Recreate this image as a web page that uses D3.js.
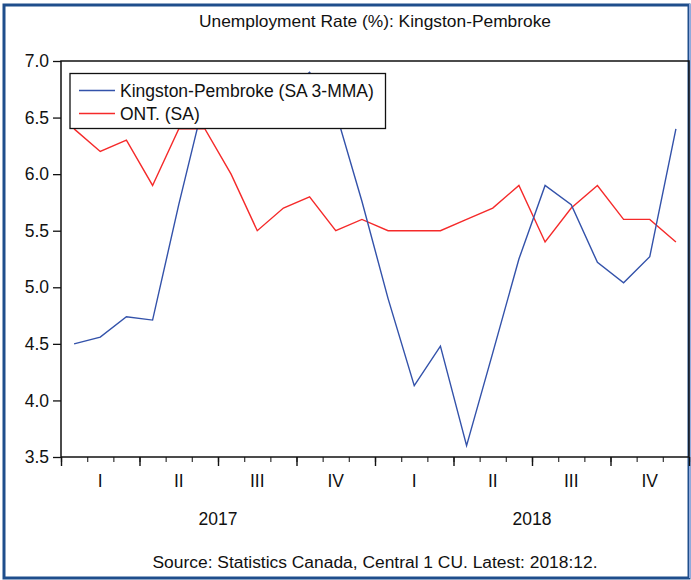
<!DOCTYPE html>
<html>
<head>
<meta charset="utf-8">
<script src="https://cdn.jsdelivr.net/npm/d3@7"></script>
<style>
  body { margin: 0; background: #fff; }
  svg text { font-family: "Liberation Sans", Arial, sans-serif; fill: #111; }
</style>
</head>
<body>
<div id="chart"></div>
<script>
// monthly data, 2017:01 - 2018:12
var kingston = [4.50, 4.56, 4.74, 4.71, 5.73, 6.68, 6.60, 6.50, 6.70, 6.90, 6.55, 5.76,
                4.90, 4.13, 4.48, 3.60, 4.42, 5.25, 5.90, 5.73, 5.22, 5.04, 5.27, 6.40];
var ontario  = [6.4, 6.2, 6.3, 5.9, 6.4, 6.4, 6.0, 5.5, 5.7, 5.8, 5.5, 5.6,
                5.5, 5.5, 5.5, 5.6, 5.7, 5.9, 5.4, 5.7, 5.9, 5.6, 5.6, 5.4];
var quarters = ["I", "II", "III", "IV", "I", "II", "III", "IV"];
var years = ["2017", "2018"];
var yTicks = [3.5, 4.0, 4.5, 5.0, 5.5, 6.0, 6.5, 7.0];
var seriesNames = ["Kingston-Pembroke (SA 3-MMA)", "ONT. (SA)"];

var W = 691, H = 580;
var margin = { top: 61, right: 2, bottom: 123, left: 61 };
var width = W - margin.left - margin.right,
    height = H - margin.top - margin.bottom;

var svg = d3.select("#chart").append("svg")
  .attr("width", W)
  .attr("height", H);

// outer frame
svg.append("rect")
  .attr("x", 4).attr("y", 5).attr("width", W - 6).attr("height", H - 7)
  .attr("fill", "none").attr("stroke", "#1f4e8c").attr("stroke-width", 3);
svg.append("line")
  .attr("x1", W - 1).attr("x2", W - 1).attr("y1", 4).attr("y2", H - 2)
  .attr("stroke", "#8faadc").attr("stroke-width", 2);

svg.append("text")
  .attr("x", margin.left + width / 2).attr("y", 27)
  .attr("text-anchor", "middle")
  .attr("font-size", 16.5)
  .attr("textLength", 352).attr("lengthAdjust", "spacingAndGlyphs")
  .text("Unemployment Rate (%): Kingston-Pembroke");

var g = svg.append("g")
  .attr("transform", "translate(" + margin.left + "," + margin.top + ")");

var x = d3.scaleLinear().domain([0, kingston.length]).range([0, width]);
var y = d3.scaleLinear().domain([3.5, 7.0]).range([height, 0]);

// y axis
var yAxis = d3.axisLeft(y).tickValues(yTicks).tickFormat(d3.format(".1f")).tickSize(8).tickPadding(4);
g.append("g").call(yAxis)
  .call(function (a) {
    a.select(".domain").remove();
    a.selectAll("line").attr("stroke", "#111").attr("stroke-width", 1.3);
    a.selectAll("text").attr("font-size", 17.5).attr("font-family", "Liberation Sans, Arial, sans-serif");
  });

// x axis: month ticks + quarter ticks
g.append("g").attr("transform", "translate(0," + height + ")")
  .call(d3.axisBottom(x).tickValues(d3.range(0, 25)).tickSize(5).tickFormat(""))
  .call(function (a) {
    a.select(".domain").remove();
    a.selectAll("line").attr("stroke", "#444").attr("stroke-width", 1.3);
  });
g.append("g").attr("transform", "translate(0," + height + ")")
  .call(d3.axisBottom(x).tickValues(d3.range(0, 25, 3)).tickSize(9).tickFormat(""))
  .call(function (a) {
    a.select(".domain").remove();
    a.selectAll("line").attr("stroke", "#111").attr("stroke-width", 1.4);
  });

g.selectAll(".qlabel").data(quarters).enter().append("text")
  .attr("x", function (d, i) { return x(i * 3 + 1.5); })
  .attr("y", height + 30)
  .attr("text-anchor", "middle")
  .attr("font-size", 17.5)
  .text(function (d) { return d; });

g.selectAll(".ylabel").data(years).enter().append("text")
  .attr("x", function (d, i) { return x(i * 12 + 6); })
  .attr("y", height + 68)
  .attr("text-anchor", "middle")
  .attr("font-size", 17.5)
  .text(function (d) { return d; });

// lines
var line = d3.line()
  .x(function (d, i) { return x(i + 0.5); })
  .y(function (d) { return y(d); });

g.append("path").datum(ontario)
  .attr("fill", "none").attr("stroke", "#f52a2a").attr("stroke-width", 1.4)
  .attr("d", line);
g.append("path").datum(kingston)
  .attr("fill", "none").attr("stroke", "#3352aa").attr("stroke-width", 1.4)
  .attr("d", line);

// plot frame
g.append("rect")
  .attr("width", width).attr("height", height)
  .attr("fill", "none").attr("stroke", "#111").attr("stroke-width", 1.5);

// legend
var legend = g.append("g").attr("transform", "translate(9,12.5)");
legend.append("rect")
  .attr("width", 315.5).attr("height", 55)
  .attr("fill", "#fff").attr("stroke", "#111").attr("stroke-width", 1.3);
var legendColors = ["#3352aa", "#f52a2a"];
seriesNames.forEach(function (name, i) {
  var ly = 17 + i * 23;
  legend.append("line")
    .attr("x1", 9).attr("x2", 45).attr("y1", ly).attr("y2", ly)
    .attr("stroke", legendColors[i]).attr("stroke-width", 1.4);
  legend.append("text")
    .attr("x", 50).attr("y", ly + 6.5)
    .attr("font-size", 17.5)
    .text(name);
});

// source note
svg.append("text")
  .attr("x", margin.left + width / 2).attr("y", 568)
  .attr("text-anchor", "middle")
  .attr("font-size", 16)
  .attr("textLength", 445).attr("lengthAdjust", "spacingAndGlyphs")
  .text("Source: Statistics Canada, Central 1 CU. Latest: 2018:12.");
</script>
</body>
</html>
